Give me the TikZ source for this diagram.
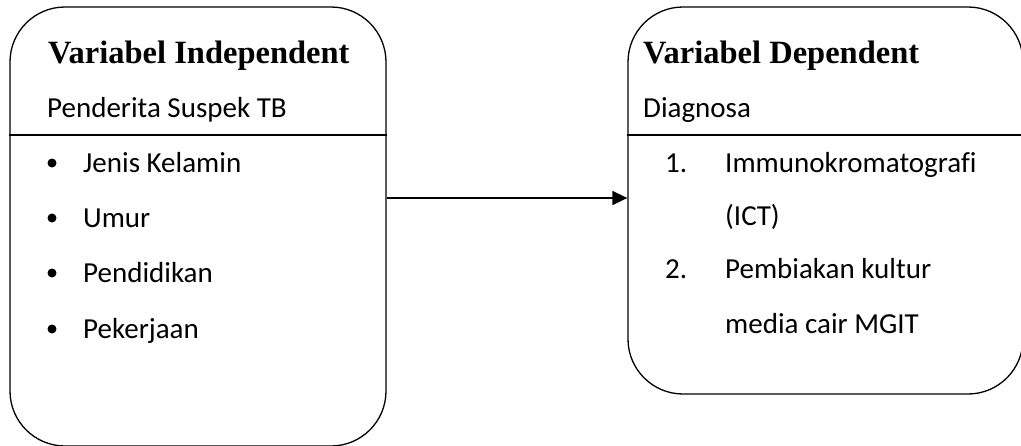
\documentclass[tikz,border=0pt]{standalone}
\usepackage{fontspec}
\setmainfont{Carlito}[Ligatures=NoCommon]
\newfontfamily\titlefont{Liberation Serif}
\usetikzlibrary{arrows.meta}
\begin{document}
\begin{tikzpicture}[x=1pt,y=1pt,
  varbox/.style={draw, line width=1.3pt, rounded corners=55pt, rectangle, inner sep=0pt},
  heading/.style={anchor=base west, inner sep=0pt, font=\titlefont\bfseries\fontsize{32.5}{38}\selectfont},
  body/.style={anchor=base west, inner sep=0pt, font=\fontsize{29}{34}\selectfont},
  dot/.style={circle, fill=black, inner sep=0pt, minimum size=9pt},
  link/.style={line width=1.6pt, -{Triangle[length=15pt,width=14pt]}}]
\useasboundingbox (0,0) rectangle (1021,-445);
\clip (0,0) rectangle (1021,-445);

% boxes
\node[varbox, minimum width=376pt, minimum height=439pt] (L) at (198,-226.5) {};
\node[varbox, minimum width=395pt, minimum height=387pt] (R) at (825.5,-200.5) {};

% separators under the sub-headings
\coordinate (sep) at (0,-135);
\draw[line width=1.3pt] (L.west |- sep) -- (L.east |- sep);
\draw[line width=1.3pt] (R.west |- sep) -- (R.east |- sep);

% left box text
\node[heading] (lt) at (48,-63) {Variabel Independent};
\node[body] (ls) at (47,-117) {Penderita Suspek TB};
\node[dot] (b1) at (52,-163) {};
\node[body] (l1) at (83,-172) {Jenis Kelamin};
\node[dot] (b2) at (52,-218) {};
\node[body] (l2) at (83,-227) {Umur};
\node[dot] (b3) at (52,-273) {};
\node[body] (l3) at (83,-282) {Pendidikan};
\node[dot] (b4) at (52,-329) {};
\node[body] (l4) at (83,-338) {Pekerjaan};

% right box text
\node[heading] (rt) at (643,-63) {Variabel Dependent};
\node[body] (rs) at (643,-117) {Diagnosa};
\node[body] (n1) at (665,-172) {1.};
\node[body] (r1) at (725,-172) {Immunokromatografi};
\node[body] (r1b) at (725,-225) {(ICT)};
\node[body] (n2) at (665,-278) {2.};
\node[body] (r2) at (725,-278) {Pembiakan kultur};
\node[body] (r2b) at (725,-333) {media cair MGIT};

% connector
\coordinate (ay) at (0,-198);
\draw[link] (L.east |- ay) -- (R.west |- ay);
\end{tikzpicture}
\end{document}
